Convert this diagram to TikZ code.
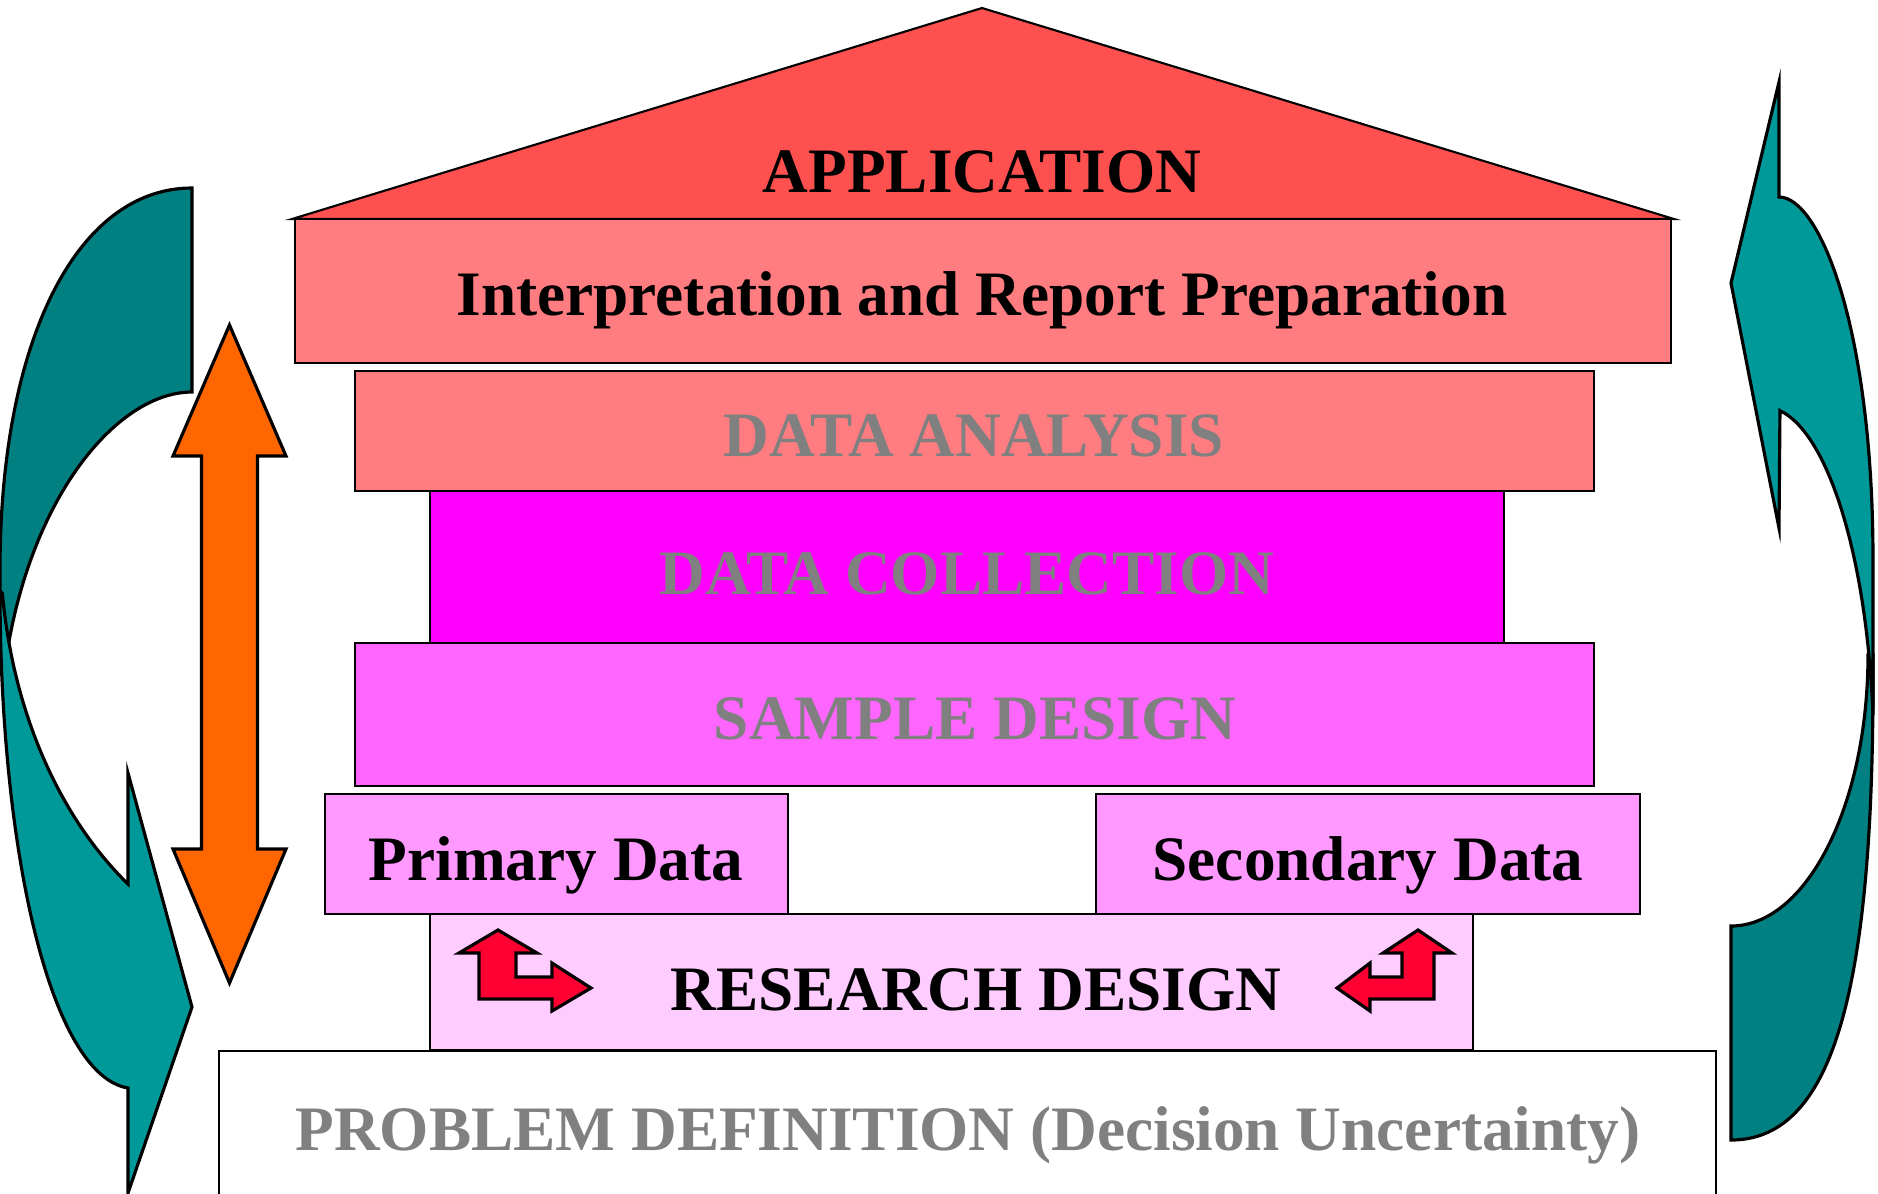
\documentclass[tikz,border=0pt]{standalone}
\usepackage{fontspec}
\setmainfont{Liberation Serif}
\usepackage{tikz}
\definecolor{roofred}{HTML}{FF5050}
\definecolor{salmon}{HTML}{FF7C80}
\definecolor{magentaA}{HTML}{FF00FF}
\definecolor{magentaB}{HTML}{FF66FF}
\definecolor{pinkA}{HTML}{FF99FF}
\definecolor{pinkB}{HTML}{FFCCFF}
\definecolor{greytext}{HTML}{808080}
\definecolor{orangearrow}{HTML}{FF6600}
\definecolor{redarrow}{HTML}{FF0033}
\definecolor{tealdark}{HTML}{008080}
\definecolor{teallight}{HTML}{009999}

\begin{document}
\begin{tikzpicture}[x=0.01cm,y=-0.01cm,
  layer/.style={draw=black,line width=0.6pt},
  bigarrow/.style={draw=black,line width=0.9pt,line join=miter},
  lbl/.style={anchor=base,inner sep=0pt,font=\fontsize{18}{20}\selectfont\bfseries},
  grey/.style={lbl,text=greytext}]
\useasboundingbox (0,0) rectangle (1878,1193);
% the house
\draw [layer,fill=roofred] (292,219) -- (982,8) -- (1674,219) -- cycle;
\draw [layer,fill=salmon] (295,219) rectangle (1671,363);
\draw [layer,fill=salmon] (355,371) rectangle (1594,491);
\draw [layer,fill=magentaA] (430,491) rectangle (1504,643);
\draw [layer,fill=magentaB] (355,643) rectangle (1594,786);
\draw [layer,fill=pinkA] (325,794) rectangle (788,914);
\draw [layer,fill=pinkA] (1096,794) rectangle (1640,914);
\draw [layer,fill=pinkB] (430,914) rectangle (1473,1050);
\draw [layer,fill=white] (219,1051) rectangle (1716,1210);
\node [lbl] (app) at (982,192) {APPLICATION};
\node [lbl] (interp) at (982,315) {Interpretation and Report Preparation};
\node [grey] (analysis) at (974,456) {DATA ANALYSIS};
\node [grey] (collect) at (967,594) {DATA COLLECTION};
\node [grey] (sample) at (975,739) {SAMPLE DESIGN};
\node [lbl] (primary) at (556,880) {Primary Data};
\node [lbl] (secondary) at (1368,880) {Secondary Data};
\node [lbl] (research) at (976,1010) {RESEARCH DESIGN};
\node [grey] (problem) at (968,1150) {PROBLEM DEFINITION (Decision Uncertainty)};
% small bent arrows
\draw [bigarrow,fill=redarrow] (498,930) -- (537,953) -- (516,953) -- (516,977) -- (552,977) -- (552,963) -- (591,988)
  -- (552,1011) -- (552,999) -- (479,999) -- (479,953) -- (459,953) -- cycle;
\draw [bigarrow,fill=redarrow] (1418,930) -- (1452,953) -- (1434,953) -- (1434,999) -- (1370,999) -- (1370,1011)
  -- (1337,988) -- (1370,963) -- (1370,977) -- (1402,977) -- (1402,953) -- (1383,953) -- cycle;
% up and down
\draw [bigarrow,fill=orangearrow] (229.5,325) -- (286,456) -- (257.5,456) -- (257.5,849) -- (286,849) -- (229.5,983)
  -- (173,849) -- (201.5,849) -- (201.5,456) -- (173,456) -- cycle;
% left loop
\draw [bigarrow,fill=tealdark] (192,188) .. controls (77,188) and (0,340) .. (0,570) -- (0,647) -- (8,647)
  .. controls (35,490) and (120,392) .. (192,392) -- cycle;
\draw [bigarrow,fill=teallight] (0,591) .. controls (0,850) and (50,1075) .. (128,1088)
  -- (128,1193) -- (192,1007) -- (128,773) -- (128,884)
  arc[start angle=125,end angle=172.9,x radius=300,y radius=418] -- cycle;
% right loop
\draw [bigarrow,fill=tealdark] (1731,1140) .. controls (1830,1140) and (1873,1000) .. (1873,680) -- (1873,655) -- (1868,655)
  arc[start angle=0,end angle=90,x radius=137,y radius=271] -- cycle;
\draw [bigarrow,fill=teallight] (1779,197) .. controls (1820,197) and (1873,330) .. (1873,560) -- (1873,715)
  arc[start angle=352.7,end angle=278.4,x radius=110,y radius=353]
  -- (1779,528) -- (1731,283) -- (1779,82) -- cycle;
\end{tikzpicture}
\end{document}
